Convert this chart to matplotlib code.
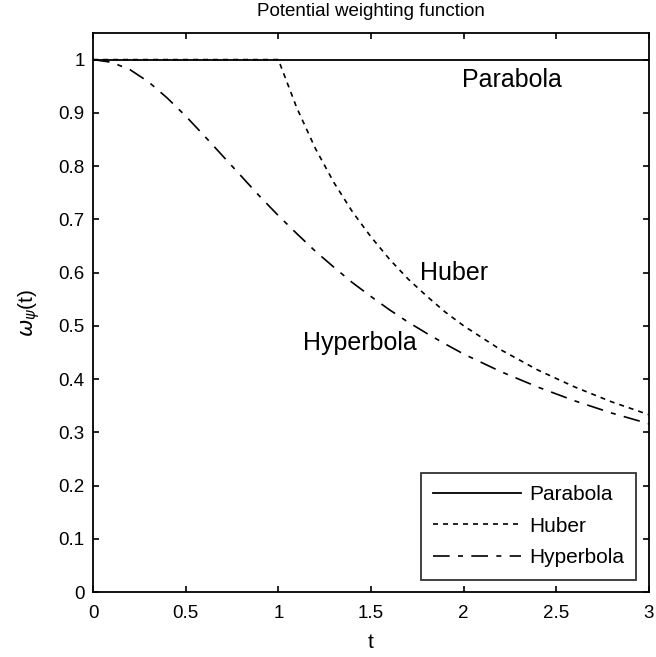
import numpy as np
import matplotlib.pyplot as plt

plt.rcParams['font.family'] = ['Liberation Sans', 'DejaVu Sans']
plt.rcParams['mathtext.fontset'] = 'custom'
plt.rcParams['mathtext.rm'] = 'Liberation Sans'

# weighting curves sampled along t
t = [0.0, 0.1, 0.2, 0.3, 0.4, 0.5, 0.6, 0.7, 0.8, 0.9, 1.0, 1.1, 1.2, 1.3, 1.4, 1.5,
     1.6, 1.7, 1.8, 1.9, 2.0, 2.2, 2.4, 2.6, 2.8, 3.0]
parabola = [1.0] * len(t)
huber = [1.0, 1.0, 1.0, 1.0, 1.0, 1.0, 1.0, 1.0, 1.0, 1.0, 1.0, 0.909, 0.833, 0.769, 0.714, 0.667,
         0.625, 0.588, 0.556, 0.526, 0.5, 0.455, 0.417, 0.385, 0.357, 0.333]
hyperbola = [1.0, 0.995, 0.981, 0.958, 0.928, 0.894, 0.857, 0.819, 0.781, 0.743, 0.707, 0.673,
             0.640, 0.610, 0.581, 0.555, 0.530, 0.507, 0.486, 0.466, 0.447, 0.414, 0.385,
             0.359, 0.336, 0.316]

fig = plt.figure(figsize=(6.56, 6.57), dpi=100)
ax = fig.add_axes([0.1418, 0.0989, 0.8475, 0.8509])

ax.plot(t, parabola, color='k', lw=1.3, ls='-', label='Parabola')
ax.plot(t, huber, color='k', lw=1.2, ls=(0, (3, 3)), label='Huber')
ax.plot(t, hyperbola, color='k', lw=1.2, ls=(0, (10, 5, 3, 5)), label='Hyperbola')

ax.text(1.99, 0.962, 'Parabola', fontsize=18, va='center', ha='left')
ax.text(1.765, 0.60, 'Huber', fontsize=18, va='center', ha='left')
ax.text(1.133, 0.468, 'Hyperbola', fontsize=18, va='center', ha='left')

ax.set_xlim(0, 3)
ax.set_ylim(0, 1.05)
ax.set_xticks(np.arange(0, 3.01, 0.5))
ax.set_xticklabels(['0', '0.5', '1', '1.5', '2', '2.5', '3'])
ax.set_yticks(np.arange(0, 1.01, 0.1))
ax.set_yticklabels(['0', '0.1', '0.2', '0.3', '0.4', '0.5', '0.6', '0.7', '0.8', '0.9', '1'])
ax.tick_params(direction='in', length=4, labelsize=13.5, top=True, right=True, width=1.2,
               pad=6)
ax.tick_params(axis='x', pad=9)
for s in ax.spines.values():
    s.set_linewidth(1.3)

ax.set_title('Potential weighting function', fontsize=13.5, pad=12)
ax.set_xlabel('t', fontsize=15, labelpad=8)
ax.set_ylabel(r'$\omega_\psi$(t)', fontsize=15, labelpad=12)

leg = ax.legend(loc='lower right', fontsize=15, fancybox=False, edgecolor='k',
                handlelength=4.2, handletextpad=0.4, borderaxespad=0.6,
                labelspacing=0.6, borderpad=0.6)
leg.get_frame().set_linewidth(1.3)

fig.savefig('out.png', dpi=100)
